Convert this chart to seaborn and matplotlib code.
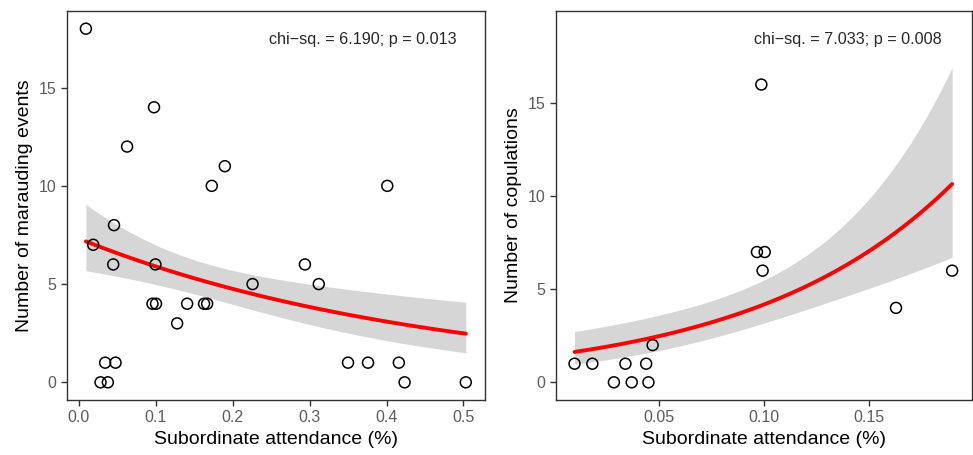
import numpy as np
import pandas as pd
import matplotlib
matplotlib.use("Agg")
import matplotlib.pyplot as plt
import seaborn as sns

# Left panel: marauding events vs subordinate attendance
maraud_x = [0.0095, 0.098, 0.063, 0.190, 0.173, 0.401, 0.046, 0.019, 0.045, 0.0998,
            0.294, 0.226, 0.312, 0.096, 0.1006, 0.141, 0.163, 0.167, 0.128, 0.0345,
            0.048, 0.350, 0.376, 0.416, 0.0285, 0.038, 0.4235, 0.503]
maraud_y = [18, 14, 12, 11, 10, 10, 8, 7, 6, 6,
            6, 5, 5, 4, 4, 4, 4, 4, 3, 1,
            1, 1, 1, 1, 0, 0, 0, 0]

# Right panel: copulations vs subordinate attendance
copul_x = [0.0987, 0.0966, 0.1003, 0.0993, 0.1898, 0.163, 0.0468,
           0.0095, 0.018, 0.0338, 0.0437, 0.0283, 0.0368, 0.0448]
copul_y = [16, 7, 7, 6, 6, 4, 2,
           1, 1, 1, 1, 0, 0, 0]

left_label = "chi\u2212sq. = 6.190; p = 0.013"
right_label = "chi\u2212sq. = 7.033; p = 0.008"


# Poisson GLM (log link) fitted by IRLS, with 95% band on the link scale
def poisson_fit(x, y, n=100):
    x = np.asarray(x, float)
    y = np.asarray(y, float)
    X = np.column_stack([np.ones_like(x), x])
    beta = np.array([np.log(y.mean() + 0.1), 0.0])
    for _ in range(100):
        mu = np.exp(X @ beta)
        z = X @ beta + (y - mu) / mu
        XtW = X.T * mu
        new = np.linalg.solve(XtW @ X, XtW @ z)
        if np.max(np.abs(new - beta)) < 1e-10:
            beta = new
            break
        beta = new
    mu = np.exp(X @ beta)
    cov = np.linalg.inv((X.T * mu) @ X)
    grid = np.linspace(x.min(), x.max(), n)
    G = np.column_stack([np.ones_like(grid), grid])
    eta = G @ beta
    se = np.sqrt(np.einsum("ij,jk,ik->i", G, cov, G))
    return pd.DataFrame({"x": grid, "fit": np.exp(eta),
                         "lo": np.exp(eta - 1.96 * se), "hi": np.exp(eta + 1.96 * se)})


def draw_panel(ax, x, y, label, ylabel, xlim, ylim, xticks, yticks, text_xy):
    df = pd.DataFrame({"x": x, "y": y})
    fit = poisson_fit(x, y)
    ax.fill_between(fit["x"], fit["lo"], fit["hi"], color="#D6D6D6", lw=0, zorder=1)
    sns.lineplot(data=fit, x="x", y="fit", ax=ax, color="red", lw=2.8, zorder=2)
    sns.scatterplot(data=df, x="x", y="y", ax=ax, s=62, facecolor="none",
                    edgecolor="black", linewidth=1.1, zorder=3)
    ax.set_xlim(*xlim)
    ax.set_ylim(*ylim)
    ax.set_xticks(xticks)
    ax.set_yticks(yticks)
    ax.set_xlabel("Subordinate attendance (%)", fontsize=14, color="black")
    ax.set_ylabel(ylabel, fontsize=14, color="black")
    ax.text(text_xy[0], text_xy[1], label, fontsize=11.6, ha="center", va="center")
    for sp in ax.spines.values():
        sp.set_visible(True)
        sp.set_color("#333333")
        sp.set_linewidth(1.0)
    ax.tick_params(axis="both", labelsize=11.5, labelcolor="#5C5C5C",
                   color="#333333", length=4, width=1.0)


sns.set_style("ticks")
plt.rcParams["font.family"] = ["Liberation Sans", "DejaVu Sans"]

fig = plt.figure(figsize=(9.73, 4.55), dpi=100)
ax1 = fig.add_axes([0.0689, 0.1209, 0.4296, 0.8549])
ax2 = fig.add_axes([0.5711, 0.1209, 0.4279, 0.8549])

draw_panel(ax1, maraud_x, maraud_y, left_label, "Number of marauding events",
           (-0.015, 0.528), (-0.9, 18.9), [0.0, 0.1, 0.2, 0.3, 0.4, 0.5],
           [0, 5, 10, 15], (0.369, 17.45))
ax1.set_xticklabels(["0.0", "0.1", "0.2", "0.3", "0.4", "0.5"])

draw_panel(ax2, copul_x, copul_y, right_label, "Number of copulations",
           (0.0005, 0.1993), (-0.95, 19.95), [0.05, 0.10, 0.15],
           [0, 5, 10, 15], (0.140, 18.4))
ax2.set_xticklabels(["0.05", "0.10", "0.15"])

fig.savefig("out.png", dpi=100)
